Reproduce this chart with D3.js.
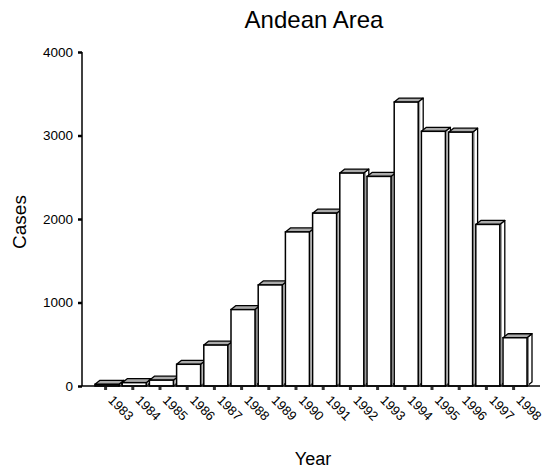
<!DOCTYPE html>
<html>
<head>
<meta charset="utf-8">
<script src="https://cdn.jsdelivr.net/npm/d3@7"></script>
<style>
  html, body { margin: 0; padding: 0; background: #fff; }
  svg { display: block; font-family: "Liberation Sans", Arial, sans-serif; }
</style>
</head>
<body>
<svg id="chart" width="545" height="472"></svg>
<script>
const years = ["1983","1984","1985","1986","1987","1988","1989","1990","1991","1992","1993","1994","1995","1996","1997","1998"];
const cases = [20, 40, 70, 260, 490, 915, 1210, 1845, 2070, 2550, 2510, 3400, 3050, 3040, 1935, 578];
const yTicks = [0, 1000, 2000, 3000, 4000];
const titleText = "Andean Area";
const xTitle = "Year";
const yTitle = "Cases";

const svg = d3.select("#chart");
const axisX = 82, baseY = 386, topY = 52;
const step = 27.2;
const x = d3.scaleBand().domain(years).range([92, 92 + step * years.length]).padding(0);
const y = d3.scaleLinear().domain([0, 4000]).range([baseY, topY]);

const fw = 24, dx = 5, dy = 4;

// bars
const g = svg.append("g");
years.forEach((yr, i) => {
  const x0 = x(yr) + 3;
  const yt = y(cases[i]);
  // side face
  g.append("path")
    .attr("d", `M${x0+fw},${yt} L${x0+fw+dx},${yt-dy} L${x0+fw+dx},${baseY-dy} L${x0+fw},${baseY} Z`)
    .attr("fill", "#ffffff").attr("stroke", "#000").attr("stroke-width", 1.3).attr("stroke-linejoin", "round");
  g.append("line")
    .attr("x1", x0+fw+1.5).attr("x2", x0+fw+1.5).attr("y1", yt-1).attr("y2", baseY)
    .attr("stroke", "#888").attr("stroke-width", 1);
  // top face
  g.append("path")
    .attr("d", `M${x0},${yt} L${x0+dx},${yt-dy} L${x0+fw+dx},${yt-dy} L${x0+fw},${yt} Z`)
    .attr("fill", "#aaa").attr("stroke", "#000").attr("stroke-width", 1.3).attr("stroke-linejoin", "round");
  // front face
  g.append("rect")
    .attr("x", x0).attr("y", yt).attr("width", fw).attr("height", baseY - yt)
    .attr("fill", "#fff").attr("stroke", "#000").attr("stroke-width", 1.5);
});

// y axis
const yAxis = d3.axisLeft(y).tickValues(yTicks).tickSize(4).tickPadding(5).tickFormat(d3.format("d"));
const ya = svg.append("g").attr("transform", `translate(${axisX},0)`).call(yAxis);
ya.select(".domain").remove();
ya.selectAll(".tick line").attr("stroke", "#000").attr("stroke-width", 2.5);
ya.selectAll(".tick text").attr("font-size", 13.5).attr("fill", "#000")
  .style("font-family", "Liberation Sans, Arial, sans-serif");
svg.append("line").attr("x1", axisX).attr("x2", axisX).attr("y1", topY).attr("y2", baseY)
  .attr("stroke", "#000").attr("stroke-width", 1.5);

// x axis
const xAxis = d3.axisBottom(x).tickSize(3).tickPadding(0);
const xa = svg.append("g").attr("transform", `translate(0,${baseY + 1})`).call(xAxis);
xa.select(".domain").remove();
xa.selectAll(".tick line").attr("stroke", "#333").attr("stroke-width", 3);
xa.selectAll(".tick text")
  .attr("font-size", 13).attr("fill", "#000")
  .style("font-family", "Liberation Sans, Arial, sans-serif")
  .attr("text-anchor", "start")
  .attr("dy", null)
  .attr("y", 0)
  .attr("transform", "translate(2,14) rotate(45)");
svg.append("line").attr("x1", axisX).attr("x2", 540).attr("y1", baseY).attr("y2", baseY)
  .attr("stroke", "#000").attr("stroke-width", 1.5);

// titles
svg.append("text").attr("x", 314).attr("y", 28).attr("text-anchor", "middle")
  .attr("font-size", 24).text(titleText);
svg.append("text").attr("x", 313).attr("y", 465).attr("text-anchor", "middle")
  .attr("font-size", 18).text(xTitle);
svg.append("text").attr("transform", "translate(26,222) rotate(-90)").attr("text-anchor", "middle")
  .attr("font-size", 19).text(yTitle);
</script>
</body>
</html>
